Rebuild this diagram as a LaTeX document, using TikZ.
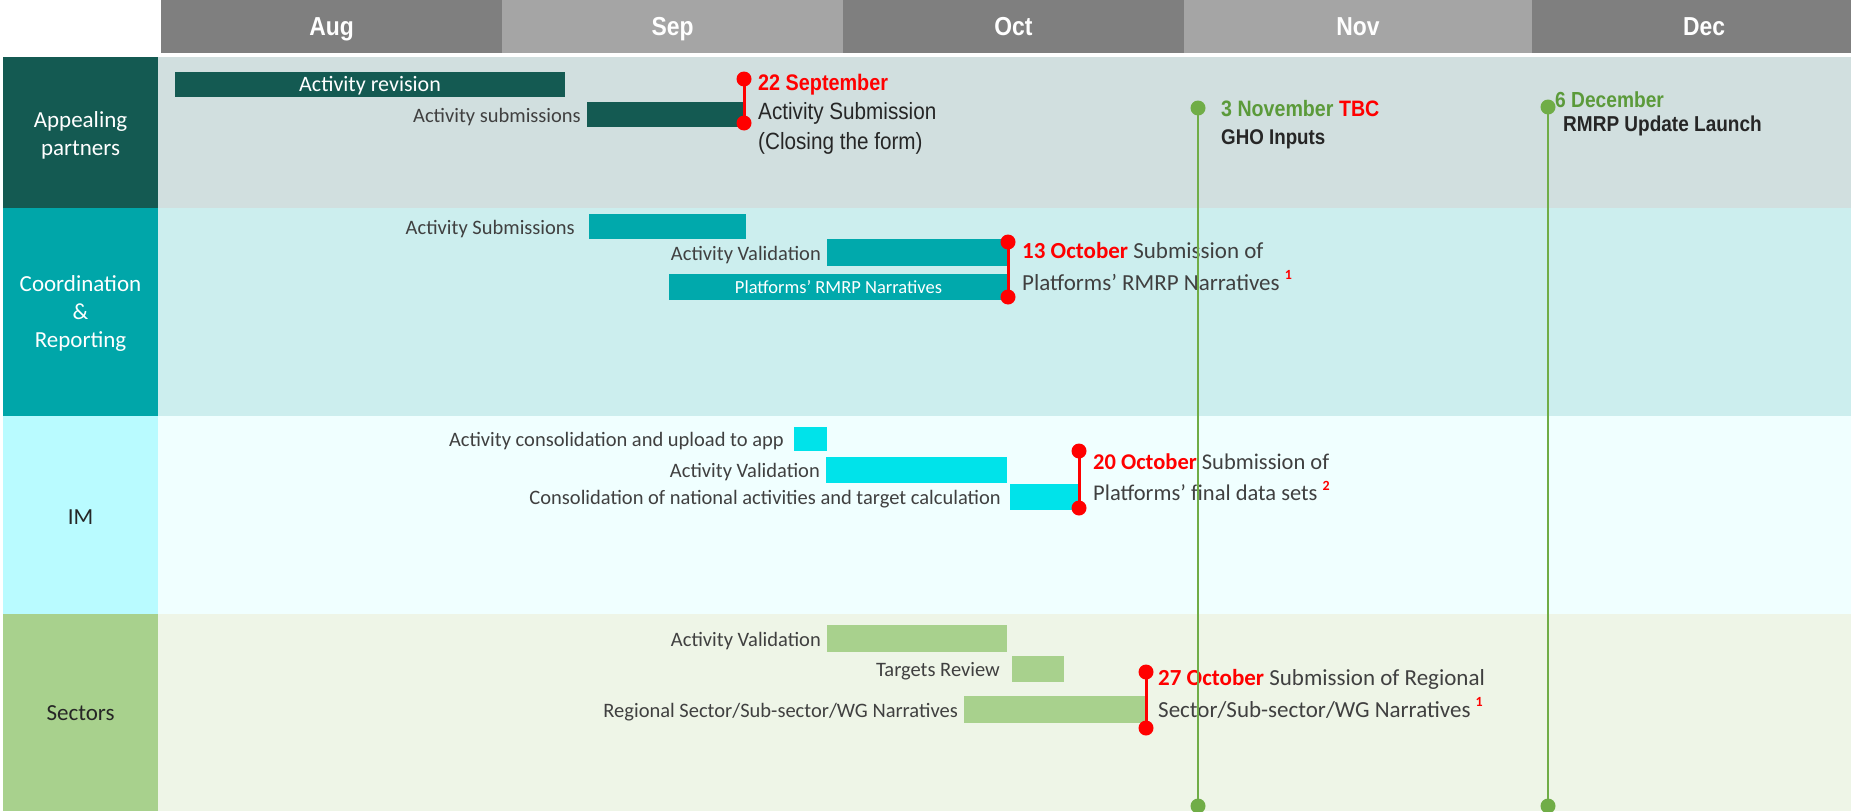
\documentclass[tikz,border=0pt]{standalone}
\usepackage{fontspec}
\setmainfont{Carlito}
\newfontfamily\rob[FakeStretch=0.88]{Liberation Sans}
\definecolor{hdrD}{HTML}{7F7F7F}
\definecolor{hdrL}{HTML}{A5A5A5}
\definecolor{lab1}{HTML}{145A52}
\definecolor{bg1}{HTML}{D1DFDF}
\definecolor{lab2}{HTML}{00A6A9}
\definecolor{bg2}{HTML}{CCEEEE}
\definecolor{bar2}{HTML}{00A9AC}
\definecolor{lab3}{HTML}{B9FBFF}
\definecolor{bg3}{HTML}{F0FFFF}
\definecolor{bar3}{HTML}{00E3EA}
\definecolor{lab4}{HTML}{A8D18D}
\definecolor{bg4}{HTML}{EEF5E7}
\definecolor{txt}{HTML}{404040}
\definecolor{dtxt}{HTML}{262626}
\definecolor{gline}{HTML}{70AD47}
\definecolor{gtxt}{HTML}{5B9A3A}
\definecolor{mred}{HTML}{FF0000}
\begin{document}
\begin{tikzpicture}[x=1pt,y=-1pt,
  cell/.style={anchor=north west, inner sep=0, outer sep=0, draw=none},
  month/.style={cell, minimum height=53, text=white, text height=18pt, text depth=0pt, font=\rob\bfseries\fontsize{26}{30}\selectfont},
  rowlab/.style={cell, minimum width=155, align=center, font=\fontsize{23}{28}\selectfont},
  bar/.style={anchor=north west, inner sep=0, outer sep=0, draw=none, text height=14pt, text depth=0pt},
  lbl/.style={anchor=east, inner sep=0, xshift=-6, text=txt, text height=15pt, text depth=0pt, font=\fontsize{20.5}{24}\selectfont},
  mtxt/.style={anchor=west, inner sep=0, text=txt, text height=14.5pt, text depth=0pt, font=\fontsize{23}{26}\selectfont},
  rtxt/.style={anchor=west, inner sep=0, text=dtxt, text height=16pt, text depth=0pt, font=\rob\fontsize{21.5}{26}\selectfont},
  rdot/.style={circle, fill=mred, inner sep=0, minimum size=15},
  gdot/.style={circle, fill=gline, inner sep=0, minimum size=15},
  rline/.style={draw=mred, line width=3},
  gl/.style={draw=gline, line width=2.5}]
\useasboundingbox (0,0) rectangle (1851,811);
\fill[white] (0,0) rectangle (1851,811);
% header
\node[month, fill=hdrD, minimum width=341] (aug) at (161,0) {Aug};
\node[month, fill=hdrL, minimum width=341] (sep) at (502,0) {Sep};
\node[month, fill=hdrD, minimum width=341] (oct) at (843,0) {Oct};
\node[month, fill=hdrL, minimum width=348] (nov) at (1184,0) {Nov};
\node[month, fill=hdrD, minimum width=344] (dec) at (1532,0) {Dec};
% row backgrounds
\node[cell, fill=bg1, minimum width=1693, minimum height=151] (r1) at (158,57) {};
\node[cell, fill=bg2, minimum width=1693, minimum height=208] (r2) at (158,208) {};
\node[cell, fill=bg3, minimum width=1693, minimum height=198] (r3) at (158,416) {};
\node[cell, fill=bg4, minimum width=1693, minimum height=197] (r4) at (158,614) {};
% row labels
\node[rowlab, fill=lab1, minimum height=151, text=white] (l1) at (3,57) {\raisebox{-3pt}[\height][\depth]{\begin{tabular}{@{}c@{}}Appealing\\partners\end{tabular}}};
\node[rowlab, fill=lab2, minimum height=208, text=white] (l2) at (3,208) {\raisebox{-2pt}[\height][\depth]{\begin{tabular}{@{}c@{}}Coordination\\\&\\Reporting\end{tabular}}};
\node[rowlab, fill=lab3, minimum height=198, text=dtxt] (l3) at (3,416) {\raisebox{-2pt}[\height][\depth]{IM}};
\node[rowlab, fill=lab4, minimum height=197, text=dtxt] (l4) at (3,614) {\raisebox{-1pt}[\height][\depth]{Sectors}};
% row 1 bars
\node[bar, fill=lab1, minimum width=390, minimum height=25, text=white, font=\fontsize{22}{26}\selectfont] (rev) at (175,72) {Activity revision};
\node[bar, fill=lab1, minimum width=157, minimum height=25] (sub1) at (587,102) {};
\node[lbl] at (sub1.west) {Activity submissions};
% row 2 bars
\node[bar, fill=bar2, minimum width=157, minimum height=25] (sub2) at (589,214) {};
\node[lbl, xshift=-8] at (sub2.west) {Activity Submissions};
\node[bar, fill=bar2, minimum width=181, minimum height=27] (val2) at (827,239) {};
\node[lbl] at (val2.west) {Activity Validation};
\node[bar, fill=bar2, minimum width=339, minimum height=26, text=white, text height=12pt, font=\fontsize{18.5}{22}\selectfont] (nar2) at (669,274) {Platforms’ RMRP Narratives};
% row 3 bars
\node[bar, fill=bar3, minimum width=33, minimum height=24] (cons) at (794,427) {};
\node[lbl, xshift=-4] at (cons.west) {Activity consolidation and upload to app};
\node[bar, fill=bar3, minimum width=181, minimum height=26] (val3) at (826,457) {};
\node[lbl] at (val3.west) {Activity Validation};
\node[bar, fill=bar3, minimum width=69, minimum height=26] (natl) at (1010,484) {};
\node[lbl, xshift=-3] at (natl.west) {Consolidation of national activities and target calculation};
% row 4 bars
\node[bar, fill=lab4, minimum width=180, minimum height=27] (val4) at (827,625) {};
\node[lbl] at (val4.west) {Activity Validation};
\node[bar, fill=lab4, minimum width=52, minimum height=26] (tgt) at (1012,656) {};
\node[lbl, xshift=-6] at (tgt.west) {Targets Review};
\node[bar, fill=lab4, minimum width=182, minimum height=27] (reg) at (964,696) {};
\node[lbl] at (reg.west) {Regional Sector/Sub-sector/WG Narratives};
% red milestones
\node[rdot] (m1a) at (744,79) {};
\node[rdot] (m1b) at (744,123) {};
\draw[rline] (m1a.center) -- (m1b.center);
\node[rdot] (m2a) at (1008,242) {};
\node[rdot] (m2b) at (1008,297) {};
\draw[rline] (m2a.center) -- (m2b.center);
\node[rdot] (m3a) at (1079,451) {};
\node[rdot] (m3b) at (1079,508) {};
\draw[rline] (m3a.center) -- (m3b.center);
\node[rdot] (m4a) at (1146,672) {};
\node[rdot] (m4b) at (1146,728) {};
\draw[rline] (m4a.center) -- (m4b.center);
% milestone texts
\node[rtxt, text=mred, font=\rob\bfseries\fontsize{22.5}{26}\selectfont] (t1a) at (758,82) {22 September};
\node[rtxt, font=\rob\fontsize{23.5}{26}\selectfont] (t1b) at (758,111) {Activity Submission};
\node[rtxt, font=\rob\fontsize{23.5}{26}\selectfont] (t1c) at (758,141) {(Closing the form)};
\node[mtxt] (t2a) at (1022,251) {\textbf{\color{mred}13 October} Submission of};
\node[mtxt] (t2b) at (1022,283) {Platforms’ RMRP Narratives \raisebox{0.45em}{\fontsize{14}{14}\selectfont\bfseries\color{mred}1}};
\node[mtxt, font=\fontsize{22.5}{26}\selectfont] (t3a) at (1093,462) {\textbf{\color{mred}20 October} Submission of};
\node[mtxt, font=\fontsize{22.5}{26}\selectfont] (t3b) at (1093,493) {Platforms’ final data sets \raisebox{0.45em}{\fontsize{14}{14}\selectfont\bfseries\color{mred}2}};
\node[mtxt] (t4a) at (1158,678) {\textbf{\color{mred}27 October} Submission of Regional};
\node[mtxt] (t4b) at (1158,710) {Sector/Sub-sector/WG Narratives \raisebox{0.45em}{\fontsize{14}{14}\selectfont\bfseries\color{mred}1}};
% green milestones
\node[gdot] (g1a) at (1198,108) {};
\node[gdot] (g1b) at (1198,806) {};
\draw[gl] (g1a.center) -- (g1b.center);
\node[gdot] (g2a) at (1548,107) {};
\node[gdot] (g2b) at (1548,806) {};
\draw[gl] (g2a.center) -- (g2b.center);
\node[rtxt, text=gtxt, font=\rob\bfseries\fontsize{22.3}{26}\selectfont] (n1a) at (1221,108) {3 November \textcolor{mred}{TBC}};
\node[rtxt, font=\rob\bfseries\fontsize{21.3}{26}\selectfont] (n1b) at (1221,136) {GHO Inputs};
\node[rtxt, text=gtxt, font=\rob\bfseries\fontsize{21.8}{26}\selectfont] (n2a) at (1555,99) {6 December};
\node[rtxt, font=\rob\bfseries\fontsize{21.6}{26}\selectfont] (n2b) at (1563,123) {RMRP Update Launch};
\end{tikzpicture}
\end{document}
